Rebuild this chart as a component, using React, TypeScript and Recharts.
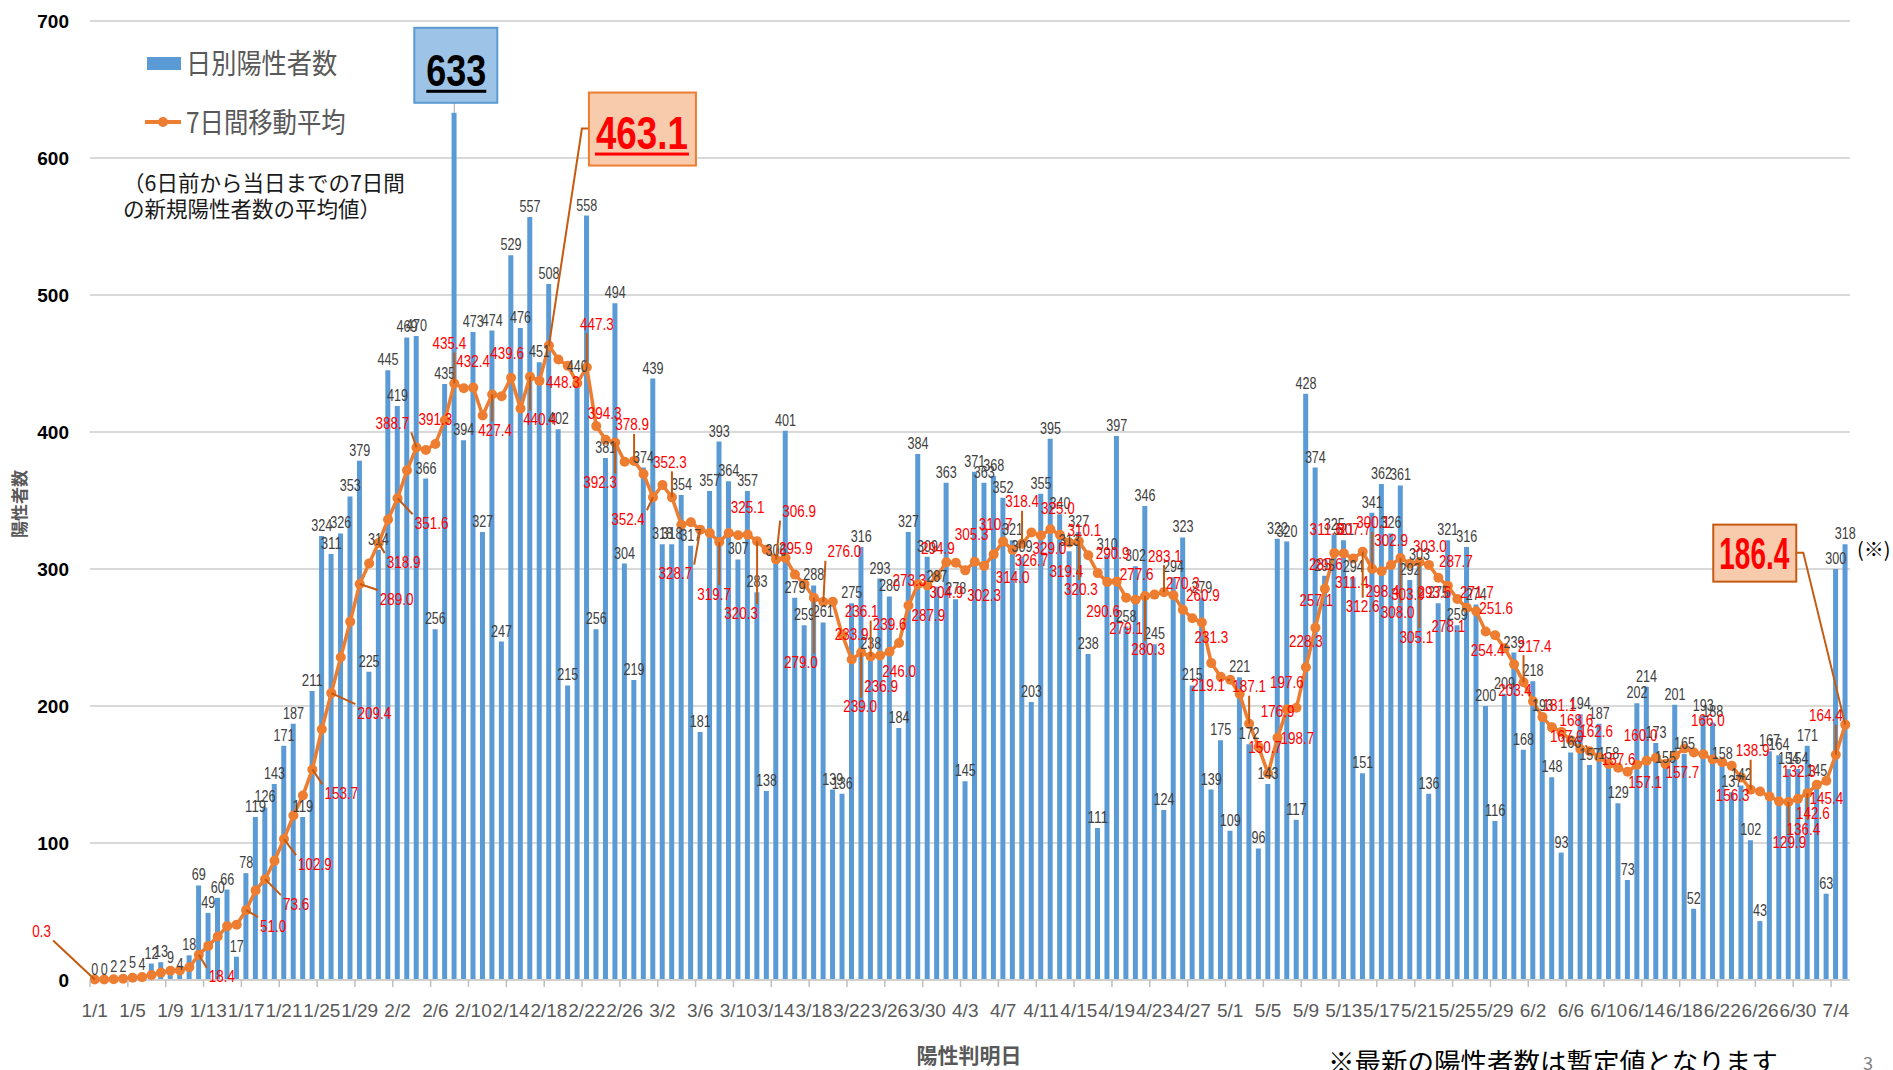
import React from 'react';
import { ComposedChart, Bar, Line, XAxis, YAxis, CartesianGrid, LabelList } from 'recharts';

const dates = [
  '1/1', '1/2', '1/3', '1/4', '1/5', '1/6', '1/7', '1/8', '1/9', '1/10', '1/11', '1/12', '1/13', '1/14', '1/15', '1/16',
  '1/17', '1/18', '1/19', '1/20', '1/21', '1/22', '1/23', '1/24', '1/25', '1/26', '1/27', '1/28', '1/29', '1/30', '1/31',
  '2/1', '2/2', '2/3', '2/4', '2/5', '2/6', '2/7', '2/8', '2/9', '2/10', '2/11', '2/12', '2/13', '2/14', '2/15', '2/16',
  '2/17', '2/18', '2/19', '2/20', '2/21', '2/22', '2/23', '2/24', '2/25', '2/26', '2/27', '2/28',
  '3/1', '3/2', '3/3', '3/4', '3/5', '3/6', '3/7', '3/8', '3/9', '3/10', '3/11', '3/12', '3/13', '3/14', '3/15', '3/16',
  '3/17', '3/18', '3/19', '3/20', '3/21', '3/22', '3/23', '3/24', '3/25', '3/26', '3/27', '3/28', '3/29', '3/30', '3/31',
  '4/1', '4/2', '4/3', '4/4', '4/5', '4/6', '4/7', '4/8', '4/9', '4/10', '4/11', '4/12', '4/13', '4/14', '4/15',
  '4/16', '4/17', '4/18', '4/19', '4/20', '4/21', '4/22', '4/23', '4/24', '4/25', '4/26', '4/27', '4/28', '4/29', '4/30',
  '5/1', '5/2', '5/3', '5/4', '5/5', '5/6', '5/7', '5/8', '5/9', '5/10', '5/11', '5/12', '5/13', '5/14', '5/15', '5/16',
  '5/17', '5/18', '5/19', '5/20', '5/21', '5/22', '5/23', '5/24', '5/25', '5/26', '5/27', '5/28', '5/29', '5/30', '5/31',
  '6/1', '6/2', '6/3', '6/4', '6/5', '6/6', '6/7', '6/8', '6/9', '6/10', '6/11', '6/12', '6/13', '6/14', '6/15',
  '6/16', '6/17', '6/18', '6/19', '6/20', '6/21', '6/22', '6/23', '6/24', '6/25', '6/26', '6/27', '6/28', '6/29', '6/30',
  '7/1', '7/2', '7/3', '7/4', '7/5',
];

// 日別陽性者数
const dailyCases = [
  0, 0, 2, 2, 5, 4, 12, 13, 9, 4, 18, 69, 49, 60, 66, 17, 78, 119, 126, 143, 171, 187, 119, 211, 324, 311, 326, 353, 379, 225, 314,
  445, 419, 469, 470, 366, 256, 435, 633, 394, 473, 327, 474, 247, 529, 476, 557, 451, 508, 402, 215, 440, 558, 256, 381, 494, 304, 219, 374,
  439, 318, 318, 354, 317, 181, 357, 393, 364, 307, 357, 283, 138, 306, 401, 279, 259, 288, 261, 139, 136, 275, 316, 238, 293, 280, 184, 327, 384, 309, 287,
  363, 278, 145, 371, 363, 368, 352, 321, 309, 203, 355, 395, 340, 313, 327, 238, 111, 310, 397, 258, 302, 346, 245, 124, 294, 323, 215, 279, 139, 175,
  109, 221, 172, 96, 143, 322, 320, 117, 428, 374, 295, 325, 321, 294, 151, 341, 362, 326, 361, 292, 303, 136, 275, 321, 259, 316, 274, 200, 116, 209, 239,
  168, 218, 193, 148, 93, 166, 194, 157, 187, 158, 129, 73, 202, 214, 173, 155, 201, 165, 52, 193, 188, 158, 137, 142, 102, 43, 167, 164, 154, 154,
  171, 145, 63, 300, 318,
];

// 7日間移動平均
const movingAvg = [
  0.3, 0.3, 0.6, 0.9, 1.6, 2.1, 3.6, 5.4, 6.7, 7.0, 9.3, 18.4, 24.9, 31.7, 39.3, 40.4, 51.0, 65.4, 73.6, 87.0, 102.9, 120.1, 134.7, 153.7,
  183.0, 209.4, 235.6, 261.6, 289.0, 304.1, 318.9,
  336.1, 351.6, 372.0, 388.7, 386.9, 391.3, 408.6, 435.4, 431.9, 432.4, 412.0, 427.4, 426.1, 439.6, 417.1, 440.4, 437.3, 463.1, 452.9,
  448.3, 435.6, 447.3, 404.3, 394.3, 392.3, 378.3, 378.9, 369.4,
  352.4, 361.3, 352.3, 332.3, 334.1, 328.7, 326.3, 319.7, 326.3, 324.7, 325.1, 320.3, 314.1, 306.9, 308.0, 295.9, 289.0, 279.0, 276.0,
  276.1, 251.9, 233.9, 239.0, 236.1, 236.9, 239.6, 246.0, 273.3, 288.9, 287.9, 294.9,
  304.9, 304.6, 299.0, 305.3, 302.3, 310.7, 320.0, 314.0, 318.4, 326.7, 324.4, 329.0, 325.0, 319.4, 320.3, 310.1, 297.0, 290.6, 290.9,
  279.1, 277.6, 280.3, 281.3, 283.1, 280.9, 270.3, 264.1, 260.9, 231.3, 221.3,
  219.1, 208.7, 187.1, 170.1, 150.7, 176.9, 197.6, 198.7, 228.3, 257.1, 285.6, 311.6, 311.4, 307.7, 312.6, 300.1, 298.4, 302.9, 308.0,
  303.9, 305.1, 303.0, 293.6, 287.7, 278.1, 271.7, 269.1, 254.4, 251.6, 242.1, 230.4,
  217.4, 203.4, 191.9, 184.4, 181.1, 175.0, 168.6, 167.0, 162.6, 157.6, 154.9, 152.0, 157.1, 160.0, 162.3, 157.7, 163.9, 169.0, 166.0,
  164.7, 161.0, 158.9, 156.3, 147.9, 138.9, 137.6, 133.9, 130.4, 129.9, 132.3,
  136.4, 142.6, 145.4, 164.4, 186.4,
];

const yTicks = [0, 100, 200, 300, 400, 500, 600, 700];

const peakBarDate = '2/8';
const peakAvgDate = '2/18';
const latestAvgDate = '7/5';

// where each red average label sits, relative to its point (dx, dy)
const avgLabelOffsets: Record<string, [number, number]> = {
  '1/1': [-53, -48], '1/12': [23, 22], '1/17': [27, 16], '1/19': [31, 25], '1/21': [31, 25], '1/24': [29, 24],
  '1/26': [43, 20], '1/29': [37, 15], '1/31': [25, 19], '2/2': [34, 25], '2/4': [-24, -24], '2/6': [0, -24],
  '2/8': [-5, -40], '2/10': [0, -26], '2/12': [3, 36], '2/14': [-4, -24], '2/16': [10, 43], '2/20': [-5, 17],
  '2/22': [10, -43], '2/24': [-1, -26], '2/25': [-15, 40], '2/27': [-2, -36], '3/1': [-25, 22], '3/3': [-2, -35],
  '3/6': [-25, 44], '3/8': [-5, 52], '3/11': [0, -27], '3/12': [-16, 72], '3/14': [23, -48], '3/16': [1, -26],
  '3/18': [-13, 65], '3/19': [21, -50], '3/22': [0, -25], '3/23': [-1, 54], '3/24': [-9, -45], '3/25': [1, 31],
  '3/26': [0, -27], '3/27': [0, 29], '3/28': [1, -25], '3/30': [1, 30], '3/31': [1, -27], '4/1': [0, 30],
  '4/4': [-3, -27], '4/5': [0, 30], '4/6': [2, -30], '4/8': [0, 28], '4/9': [0, -42], '4/10': [0, 28],
  '4/12': [-1, 19], '4/13': [-2, -26], '4/14': [-3, 29], '4/15': [2, 48], '4/16': [-4, -25], '4/18': [-4, 30],
  '4/19': [-4, -28], '4/20': [0, 31], '4/21': [1, -25], '4/22': [3, 54], '4/24': [1, -36], '4/26': [0, -26],
  '4/28': [1, -27], '4/29': [0, -26], '5/1': [-22, 6], '5/3': [0, -37], '5/5': [-3, -26], '5/6': [0, -26],
  '5/7': [0, -27], '5/8': [1, 31], '5/9': [0, -26], '5/10': [1, -27], '5/11': [1, -24], '5/12': [-8, -24],
  '5/13': [8, 29], '5/14': [1, -29], '5/15': [0, 55], '5/16': [1, -46], '5/17': [1, 20], '5/18': [0, -25],
  '5/19': [-3, 54], '5/20': [-2, 31], '5/21': [-3, 75], '5/22': [1, -18], '5/23': [-4, 15], '5/24': [8, -24],
  '5/25': [-9, 27], '5/26': [10, -15], '5/28': [2, 19], '5/29': [1, -27], '6/1': [11, -36], '6/2': [-18, -11],
  '6/5': [-2, -26], '6/7': [-4, -29], '6/8': [-23, -15], '6/9': [-3, -26], '6/10': [10, -5], '6/13': [8, 18],
  '6/14': [-6, -25], '6/16': [17, 9], '6/19': [14, -32], '6/23': [1, 30], '6/25': [2, -39], '6/29': [1, 40],
  '6/30': [1, -27], '7/1': [-4, 36], '7/2': [-4, 29], '7/3': [0, 18], '7/4': [-10, -39],
};

const data = dates.map((date, i) => ({ date, cases: dailyCases[i], avg: movingAvg[i] }));

const BLUE = '#5B9BD5';
const ORANGE = '#ED7D31';
const BROWN = '#C55A11';
const NUM_FONT = "'Liberation Sans Narrow', 'Liberation Sans', Arial, sans-serif";
const JP_FONT = "'Noto Sans CJK JP', 'Noto Sans', sans-serif";
const HALF_BAND = 4.73;

const numWidth = (s: string, digit: number) =>
  s.split('').reduce((w, c) => w + (c === '.' ? digit * 0.5 : digit), 0);

// labels for the bars; drawn through an invisible line so zero-height bars keep their label
function BarValueLabel(props: any) {
  const { x, y, value, index } = props;
  if (dates[index] === peakBarDate) {
    const bx = x - 40;
    const by = y - 85;
    return (
      <g>
        <line x1={x} y1={y} x2={x} y2={by + 75} stroke="#a6a6a6" strokeWidth={1} />
        <rect x={bx} y={by} width={83} height={75} fill="#9DC3E6" stroke={BLUE} strokeWidth={2} />
        <text x={x + 2} y={by + 58} textAnchor="middle" fontFamily={NUM_FONT} fontWeight="bold" fontSize={44}
          fill="#000" textLength={60} lengthAdjust="spacingAndGlyphs">{value}</text>
        <rect x={x - 28} y={by + 62} width={60} height={3} fill="#000" />
      </g>
    );
  }
  const s = String(value);
  return (
    <text x={x} y={y - 5} textAnchor="middle" fontFamily={NUM_FONT} fontSize={16} fill="#404040"
      textLength={numWidth(s, 7)} lengthAdjust="spacingAndGlyphs">{s}</text>
  );
}

function AvgValueLabel(props: any) {
  const { x, y, value, index } = props;
  const date = dates[index];
  const s = Number(value).toFixed(1);
  if (date === peakAvgDate) {
    return (
      <g>
        <polyline points={`${x},${y} ${x + 33},${y - 217} ${x + 40},${y - 217}`} fill="none" stroke={BROWN} strokeWidth={2} />
        <rect x={x + 40} y={y - 253} width={107} height={73} fill="#F8CBAD" stroke={ORANGE} strokeWidth={2} />
        <text x={x + 93} y={y - 197} textAnchor="middle" fontFamily={NUM_FONT} fontWeight="bold" fontSize={46}
          fill="#FF0000" textLength={92} lengthAdjust="spacingAndGlyphs">{s}</text>
        <rect x={x + 46} y={y - 193} width={94} height={3} fill="#FF0000" />
      </g>
    );
  }
  if (date === latestAvgDate) {
    return (
      <g>
        <polyline points={`${x},${y} ${x - 42},${y - 172} ${x - 50},${y - 172}`} fill="none" stroke={BROWN} strokeWidth={2} />
        <rect x={x - 132} y={y - 200} width={83} height={57} fill="#F8CBAD" stroke={BROWN} strokeWidth={2} />
        <text x={x - 91} y={y - 156} textAnchor="middle" fontFamily={NUM_FONT} fontWeight="bold" fontSize={44}
          fill="#FF0000" textLength={70} lengthAdjust="spacingAndGlyphs">{s}</text>
      </g>
    );
  }
  const off = avgLabelOffsets[date];
  if (!off) return null;
  const w = numWidth(s, 7.5);
  const cx = x + off[0];
  const cy = y + off[1];
  let leader = null;
  if (Math.abs(off[0]) > 20 || Math.abs(off[1]) > 34) {
    const hw = w / 2 + 2;
    const hh = 9;
    const nx = Math.max(cx - hw, Math.min(x, cx + hw));
    const ny = Math.max(cy - hh, Math.min(y, cy + hh));
    leader = <line x1={x} y1={y} x2={nx} y2={ny} stroke={BROWN} strokeWidth={2} />;
  }
  return (
    <g>
      {leader}
      <text x={cx} y={cy + 5.5} textAnchor="middle" fontFamily={NUM_FONT} fontSize={16} fill="#FF0000"
        textLength={w} lengthAdjust="spacingAndGlyphs">{s}</text>
    </g>
  );
}

function DateTick(props: any) {
  const { x, y, payload } = props;
  return (
    <g>
      <line x1={x - HALF_BAND} x2={x - HALF_BAND} y1={y} y2={y + 7} stroke="#bfbfbf" strokeWidth={1.5} />
      <text x={x} y={y + 37} textAnchor="middle" fontFamily="'Liberation Sans', Arial, sans-serif" fontSize={19}
        fill="#595959">{payload.value}</text>
    </g>
  );
}

const abs = (left: number, top: number, extra: React.CSSProperties = {}): React.CSSProperties => ({
  position: 'absolute', left, top, whiteSpace: 'nowrap', fontFamily: JP_FONT, ...extra,
});

export default function App() {
  return (
    <div style={{ position: 'absolute', left: 0, top: 0, width: 1893, height: 1070, background: '#fff', overflow: 'hidden' }}>
      <ComposedChart width={1893} height={1070} data={data} margin={{ top: 21, right: 43, bottom: 0, left: 0 }}
        barCategoryGap={0}>
        <CartesianGrid vertical={false} stroke="#d9d9d9" strokeWidth={2} />
        <XAxis dataKey="date" height={90} interval={3} tickLine={false} tickSize={0} tickMargin={0}
          axisLine={{ stroke: '#d0d0d0', strokeWidth: 2 }} tick={<DateTick />} />
        <YAxis width={90} domain={[0, 700]} ticks={yTicks} axisLine={false} tickLine={false} tickSize={0} tickMargin={21}
          tick={{ fill: '#000', fontSize: 19, fontWeight: 'bold', fontFamily: "'Liberation Sans', Arial, sans-serif" }} />
        <Bar dataKey="cases" fill={BLUE} barSize={5} isAnimationActive={false} />
        <Line dataKey="cases" stroke="none" dot={false} activeDot={false} legendType="none" isAnimationActive={false}>
          <LabelList dataKey="cases" content={<BarValueLabel />} />
        </Line>
        <Line dataKey="avg" type="linear" stroke={ORANGE} strokeWidth={3.5}
          dot={{ r: 5, fill: ORANGE, stroke: ORANGE, strokeWidth: 0 }} isAnimationActive={false}>
          <LabelList dataKey="avg" content={<AvgValueLabel />} />
        </Line>
      </ComposedChart>

      {/* legend */}
      <div style={abs(147, 57, { width: 34, height: 13, background: BLUE })} />
      <div style={abs(186, 47, { fontSize: 28, lineHeight: '30px', color: '#595959', transform: 'scaleX(0.9)', transformOrigin: 'left center' })}>日別陽性者数</div>
      <div style={abs(145, 120, { width: 36, height: 4, background: ORANGE })} />
      <div style={abs(158, 117, { width: 10, height: 10, borderRadius: '50%', background: ORANGE })} />
      <div style={abs(186, 106, { fontSize: 28, lineHeight: '30px', color: '#595959', transform: 'scaleX(0.87)', transformOrigin: 'left center' })}>7日間移動平均</div>
      <div style={abs(123, 169, { fontSize: 21.5, lineHeight: '26px', color: '#1a1a1a' })}>（6日前から当日までの7日間<br />の新規陽性者数の平均値）</div>

      {/* axis titles and notes */}
      <div style={abs(18, 504, { fontSize: 17, fontWeight: 'bold', color: '#595959', transform: 'translate(-50%, -50%) rotate(-90deg)' })}>陽性者数</div>
      <div style={abs(969, 1041, { fontSize: 21, fontWeight: 'bold', color: '#595959', transform: 'translateX(-50%)', lineHeight: '26px' })}>陽性判明日</div>
      <div style={abs(1328, 1046, { fontSize: 26.5, lineHeight: '30px', color: '#000' })}>※最新の陽性者数は暫定値となります</div>
      <div style={abs(1863, 1050, { fontSize: 18, color: '#808080', lineHeight: '24px' })}>3</div>
      <div style={abs(1857, 536, { fontSize: 20, color: '#000', lineHeight: '26px' })}>(※)</div>
    </div>
  );
}
